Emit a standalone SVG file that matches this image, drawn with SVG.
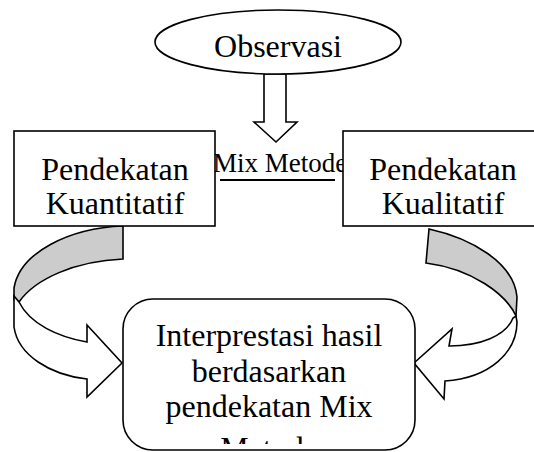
<svg xmlns="http://www.w3.org/2000/svg" width="534" height="452" viewBox="0 0 534 452">
<style>
.s{fill:#fff;stroke:#000;stroke-width:1.6;stroke-linejoin:miter}
.g{fill:#cccccc;stroke:#000;stroke-width:1.6}
.t{font-family:"Liberation Serif","Times New Roman",serif;font-size:32px;fill:#000;text-anchor:middle}
.m{font-family:"Liberation Serif","Times New Roman",serif;font-size:27px;fill:#000}
</style>
<defs>
<clipPath id="clipB"><rect x="123" y="299" width="292" height="145"/></clipPath>
</defs>
<g id="connectors">
<path class="s" d="M264,74 L286,74 L286,122 L297,122 L276,142 L254,122 L264,122 Z"/>
<line x1="220" y1="180" x2="335" y2="180" stroke="#000" stroke-width="2"/>
<path class="g" d="M123,226 C70,228 20,252 14,288 L14,300 L19,302 C35,279 75,261 123,259 Z"/>
<path class="s" d="M14,296 L14,327 C18,355 50,375 87,379 L87,397 L122,363 L87,325 L87,342 C58,337 30,324 19,302 Z"/>
<path class="g" d="M429,229 C470,238 514,262 517,297 L516,316 C506,294 472,269 426,263 Z"/>
<path class="s" d="M516,316 L517,322 C517,352 490,378 445,381 L444,399 L414,363 L452,329 L449,346 C480,346 506,336 513,318 Z"/>
</g>
<g id="observasi">
<ellipse class="s" cx="278" cy="42" rx="123" ry="32"/>
<text class="t" x="278" y="57">Observasi</text>
</g>
<g id="mix-metode">
<text class="m" x="213" y="172">Mix Metode</text>
</g>
<g id="kuantitatif">
<rect class="s" x="14" y="131" width="201" height="95"/>
<text class="t" x="115" y="180">Pendekatan</text>
<text class="t" x="115" y="214">Kuantitatif</text>
</g>
<g id="kualitatif">
<rect class="s" x="343" y="131" width="200" height="95"/>
<text class="t" x="443" y="180">Pendekatan</text>
<text class="t" x="443" y="214">Kualitatif</text>
</g>
<g id="interprestasi">
<rect class="s" x="123" y="299" width="292" height="151" rx="30" ry="30"/>
<g clip-path="url(#clipB)">
<text class="t" x="269" y="346">Interprestasi hasil</text>
<text class="t" x="269" y="382">berdasarkan</text>
<text class="t" x="269" y="417">pendekatan Mix</text>
<text class="t" x="269" y="459">Metode</text>
</g>
</g>
</svg>
